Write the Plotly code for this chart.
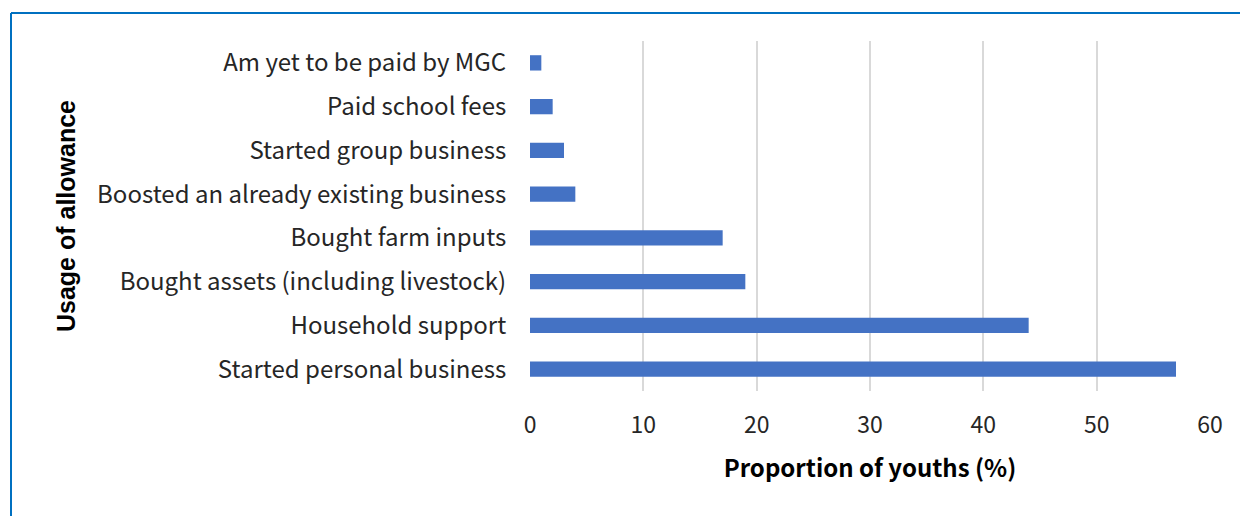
import plotly.graph_objects as go

# Usage of allowance categories (top to bottom as displayed)
categories = [
    "Am yet to be paid by MGC",
    "Paid school fees",
    "Started group business",
    "Boosted an already existing business",
    "Bought farm inputs",
    "Bought assets (including livestock)",
    "Household support",
    "Started personal business",
]
proportions = [1, 2, 3, 4, 17, 19, 44, 57]
x_ticks = [0, 10, 20, 30, 40, 50, 60]

W, H = 1240, 516
L, R, T, B = 530, 30, 41, 125
pw, ph = W - L - R, H - T - B

def px_x(p):
    return (p - L) / pw

def px_y(p):
    return (H - B - p) / ph

fig = go.Figure(
    go.Bar(
        x=proportions,
        y=categories,
        orientation="h",
        marker=dict(color="#4472C4", line=dict(width=0)),
        width=0.35,
    )
)

fig.update_layout(
    width=W,
    height=H,
    margin=dict(l=L, r=R, t=T, b=B),
    paper_bgcolor="white",
    plot_bgcolor="white",
    showlegend=False,
    font=dict(family="Noto Sans CJK JP", color="#262626"),
    shapes=[
        dict(type="line", xref="paper", yref="paper",
             x0=px_x(11), x1=px_x(1250), y0=px_y(13), y1=px_y(13),
             line=dict(color="#0070C0", width=2)),
        dict(type="line", xref="paper", yref="paper",
             x0=px_x(11), x1=px_x(11), y0=px_y(13), y1=px_y(530),
             line=dict(color="#0070C0", width=2)),
    ],
)

fig.update_xaxes(
    range=[0, 60],
    tickvals=x_ticks,
    showgrid=True,
    gridcolor="#d9d9d9",
    gridwidth=2,
    zeroline=False,
    showline=False,
    ticks="outside",
    ticklen=13,
    tickcolor="rgba(0,0,0,0)",
    tickfont=dict(size=23, family="Noto Sans CJK JP", color="#262626"),
    title=dict(
        text="<b>Proportion of youths (%)</b>",
        font=dict(size=24, family="Noto Sans CJK JP", color="#000000"),
        standoff=21,
    ),
)

fig.update_yaxes(
    categoryorder="array",
    categoryarray=categories[::-1],
    range=[-0.5, len(categories) - 0.5],
    showgrid=False,
    zeroline=False,
    showline=False,
    ticks="outside",
    ticklen=18,
    tickcolor="rgba(0,0,0,0)",
    tickfont=dict(size=24, family="Noto Sans CJK JP", color="#262626"),
    title=dict(
        text="<b>Usage of allowance</b>",
        font=dict(size=25, family="Liberation Sans", color="#000000"),
        standoff=14,
    ),
)

fig.write_html("out.html")
